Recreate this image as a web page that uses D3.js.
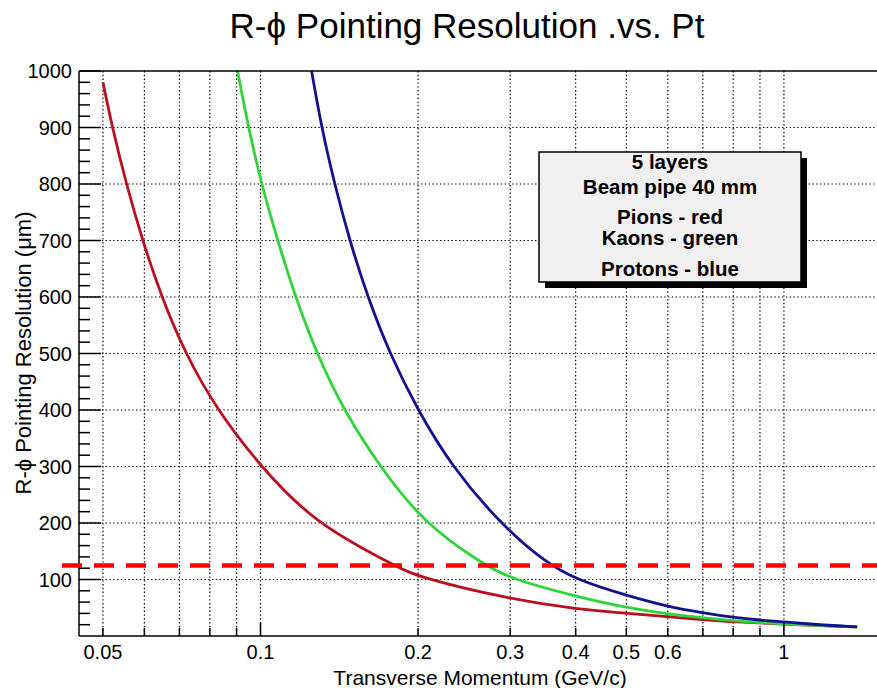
<!DOCTYPE html>
<html>
<head>
<meta charset="utf-8">
<script src="https://cdn.jsdelivr.net/npm/d3@7"></script>
<style>
  body { margin: 0; background: #fff; }
  text { font-family: 'Liberation Sans', Arial, sans-serif; }
</style>
</head>
<body>
<div id="chart"></div>
<script>
// ---------------------------------------------------------------------------
// data
// ---------------------------------------------------------------------------
const pionPt   = [0.05, 0.0521, 0.0554, 0.0595, 0.0647, 0.0718, 0.0826, 0.1, 0.1267, 0.18, 0.2, 0.3, 0.4, 0.5, 0.6, 0.7, 0.8, 1.0, 1.38];
const pionRes  = [980,  900,    800,    700,    600,    500,    400,    300, 200,    125,  104, 65,  48,  40,  34,  29,  25,  21,  16];

const kaonPt   = [0.0904, 0.0948, 0.1004, 0.1078, 0.1166, 0.128, 0.1441, 0.1689, 0.2049, 0.2682, 0.3, 0.4, 0.5, 0.6, 0.7, 0.8, 1.0, 1.38];
const kaonRes  = [1000,   900,    800,    700,    600,    500,   400,    300,    200,    125,    102, 70,  50,  39,  32,  27,  21,  16];

const protonPt  = [0.1252, 0.1308, 0.1385, 0.148, 0.1602, 0.1765, 0.1996, 0.2319, 0.2864, 0.346, 0.4, 0.5, 0.6, 0.7, 0.8, 0.9, 1.0, 1.2, 1.38];
const protonRes = [1000,   900,    800,    700,   600,    500,    400,    300,    200,    134,   100, 72,  52,  41,  33,  28,  25,  19,  16];

const cutLevel = 125;   // dashed red line

const yMajor = [100, 200, 300, 400, 500, 600, 700, 800, 900, 1000];
const yMinor = d3.range(20, 1000, 20).filter(v => v % 100 !== 0);
const xGrid  = [0.05, 0.06, 0.07, 0.08, 0.09, 0.1, 0.2, 0.3, 0.4, 0.5, 0.6, 0.7, 0.8, 0.9, 1];
const xMajor = [0.1, 1];
const xLabels = [0.05, 0.1, 0.2, 0.3, 0.4, 0.5, 0.6, 1];

const legendLines = ['5 layers', 'Beam pipe 40 mm', 'Pions - red', 'Kaons - green', 'Protons - blue'];

// ---------------------------------------------------------------------------
// svg setup
// ---------------------------------------------------------------------------
const width = 877, height = 688;
const pLeft = 79, pRight = 885, pTop = 71, pBottom = 636;

const svg = d3.select('#chart').append('svg')
  .attr('width', width)
  .attr('height', height)
  .attr('viewBox', [0, 0, width, height]);

svg.append('defs').append('clipPath').attr('id', 'plot-clip')
  .append('rect').attr('x', pLeft).attr('y', pTop).attr('width', pRight - pLeft).attr('height', pBottom - pTop);

const x = d3.scaleLog().domain([0.045, 1.56]).range([pLeft, pRight]);
const y = d3.scaleLinear().domain([0, 1000]).range([pBottom, pTop]);

const grid   = svg.append('g').attr('id', 'grid');
const curves = svg.append('g').attr('id', 'curves').attr('clip-path', 'url(#plot-clip)');
const axes   = svg.append('g').attr('id', 'axes');
const legend = svg.append('g').attr('id', 'legend');

// grid (dotted)
grid.selectAll('line.v')
  .data(xGrid)
  .join('line')
  .attr('class', 'v')
  .attr('x1', d => x(d)).attr('x2', d => x(d))
  .attr('y1', pTop).attr('y2', pBottom)
  .attr('stroke', '#000').attr('stroke-width', 1.2).attr('stroke-dasharray', '1.4,2.4');

grid.selectAll('line.h')
  .data(yMajor.filter(d => d < 1000))
  .join('line')
  .attr('class', 'h')
  .attr('x1', pLeft).attr('x2', pRight)
  .attr('y1', d => y(d)).attr('y2', d => y(d))
  .attr('stroke', '#000').attr('stroke-width', 1.2).attr('stroke-dasharray', '1.4,2.4');

// curves
const line = d3.line().x(d => x(d[0])).y(d => y(d[1])).curve(d3.curveBasis);

const series = [
  { name: 'pions',   pt: pionPt,   res: pionRes,   color: '#b8101f' },
  { name: 'kaons',   pt: kaonPt,   res: kaonRes,   color: '#2fd43a' },
  { name: 'protons', pt: protonPt, res: protonRes, color: '#12128f' }
];

curves.selectAll('path')
  .data(series)
  .join('path')
  .attr('d', s => line(d3.zip(s.pt, s.res)))
  .attr('fill', 'none')
  .attr('stroke', s => s.color)
  .attr('stroke-width', 2.8);

// frame + axes
axes.append('line').attr('x1', pLeft).attr('x2', pRight).attr('y1', pTop).attr('y2', pTop)
  .attr('stroke', '#000').attr('stroke-width', 1.5);
axes.append('line').attr('x1', pLeft).attr('x2', pRight).attr('y1', pBottom).attr('y2', pBottom)
  .attr('stroke', '#000').attr('stroke-width', 1.5);
axes.append('line').attr('x1', pLeft).attr('x2', pLeft).attr('y1', pTop).attr('y2', pBottom)
  .attr('stroke', '#000').attr('stroke-width', 1.5);

axes.selectAll('line.ymaj')
  .data(yMajor)
  .join('line').attr('class', 'ymaj')
  .attr('x1', pLeft).attr('x2', pLeft + 22)
  .attr('y1', d => y(d)).attr('y2', d => y(d))
  .attr('stroke', '#000').attr('stroke-width', 1.5);

axes.selectAll('line.ymin')
  .data(yMinor)
  .join('line').attr('class', 'ymin')
  .attr('x1', pLeft).attr('x2', pLeft + 11)
  .attr('y1', d => y(d)).attr('y2', d => y(d))
  .attr('stroke', '#000').attr('stroke-width', 1.5);

axes.selectAll('text.ylab')
  .data(yMajor)
  .join('text').attr('class', 'ylab')
  .attr('x', pLeft - 7)
  .attr('y', d => y(d))
  .attr('dy', '0.36em')
  .attr('text-anchor', 'end')
  .attr('font-size', 20)
  .text(d => d);

axes.selectAll('line.xt')
  .data(xGrid)
  .join('line').attr('class', 'xt')
  .attr('x1', d => x(d)).attr('x2', d => x(d))
  .attr('y1', pBottom).attr('y2', d => pBottom - (xMajor.includes(d) ? 14 : 8))
  .attr('stroke', '#000').attr('stroke-width', 1.5);

axes.selectAll('text.xlab')
  .data(xLabels)
  .join('text').attr('class', 'xlab')
  .attr('x', d => x(d))
  .attr('y', 659)
  .attr('text-anchor', 'middle')
  .attr('font-size', 20)
  .text(d => d);

// dashed cut line
svg.append('line')
  .attr('x1', 62).attr('x2', width)
  .attr('y1', y(cutLevel)).attr('y2', y(cutLevel))
  .attr('stroke', '#ff0000').attr('stroke-width', 4.5)
  .attr('stroke-dasharray', '20,12');

// titles
svg.append('text')
  .attr('x', 467).attr('y', 38)
  .attr('text-anchor', 'middle')
  .attr('font-size', 35)
  .text('R-ϕ Pointing Resolution .vs. Pt');

svg.append('text')
  .attr('x', 480).attr('y', 685)
  .attr('text-anchor', 'middle')
  .attr('font-size', 21)
  .text('Transverse Momentum (GeV/c)');

svg.append('text')
  .attr('transform', 'translate(31,353) rotate(-90)')
  .attr('text-anchor', 'middle')
  .attr('font-size', 22)
  .text('R-ϕ Pointing Resolution (μm)');

// legend box with shadow
const bx = 539, by = 152, bw = 262, bh = 130;
legend.append('rect').attr('x', bx + 6).attr('y', by + 6).attr('width', bw).attr('height', bh).attr('fill', '#000');
legend.append('rect').attr('x', bx).attr('y', by).attr('width', bw).attr('height', bh)
  .attr('fill', '#f0f0f0').attr('stroke', '#000').attr('stroke-width', 1.5);

const legendY = [169, 194, 224, 245, 276];
legend.selectAll('text')
  .data(legendLines)
  .join('text')
  .attr('x', bx + bw / 2)
  .attr('y', (d, i) => legendY[i])
  .attr('text-anchor', 'middle')
  .attr('font-size', 20.5)
  .attr('font-weight', 'bold')
  .text(d => d);
</script>
</body>
</html>
